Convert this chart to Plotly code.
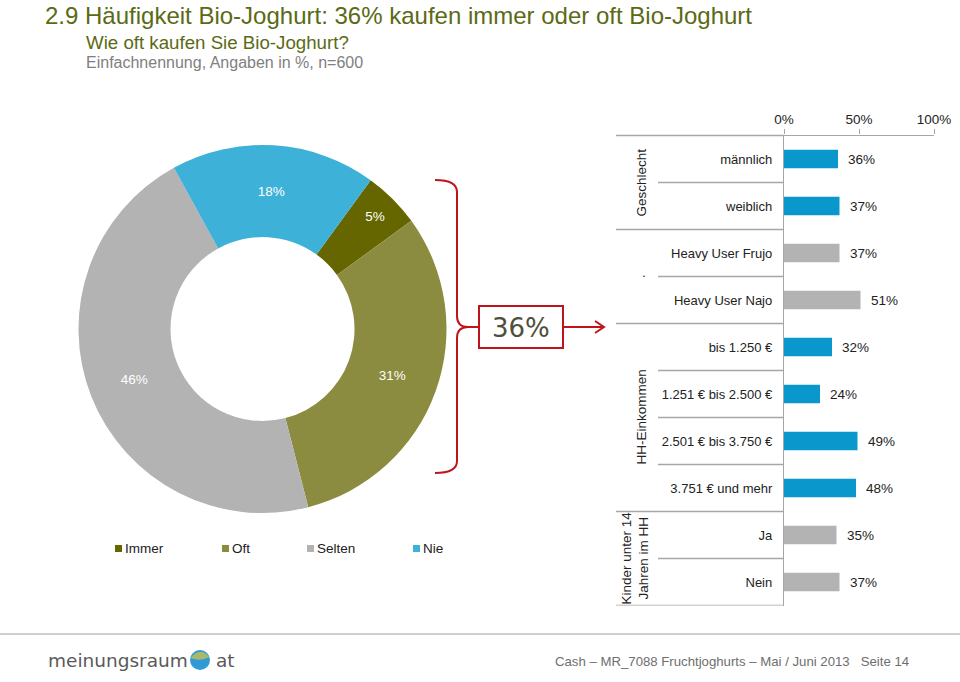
import plotly.graph_objects as go

# ---------------- data ----------------
pie_labels = ["Immer", "Oft", "Selten", "Nie"]
pie_values = [5, 31, 46, 18]
pie_colors = ["#666600", "#8C8C40", "#B3B3B3", "#3DB1D8"]

bar_categories = ["männlich", "weiblich", "Heavy User Frujo", "Heavy User Najo",
                  "bis 1.250 €", "1.251 € bis 2.500 €", "2.501 € bis 3.750 €",
                  "3.751 € und mehr", "Ja", "Nein"]
bar_values = [36, 37, 37, 51, 32, 24, 49, 48, 35, 37]
group_names = ["Geschlecht", ".", "HH-Einkommen", "Kinder unter 14<br>Jahren im HH"]
group_sizes = [2, 2, 4, 2]
group_colors = ["#0A97CC", "#B3B3B3", "#0A97CC", "#B3B3B3"]

x_tickvals = [0, 50, 100]
x_ticktext = ["0%", "50%", "100%"]

highlight_text = "36%"

W, H = 960, 682
def X(px):
    return px / W
def Y(py):
    return 1 - py / H

FONT = "Liberation Sans, Arial, sans-serif"
TXT = "#222222"
GRID = "#A6A6A6"

bar_colors = []
for c, n in zip(group_colors, group_sizes):
    bar_colors += [c] * n

fig = go.Figure()

fig.add_trace(go.Pie(
    labels=pie_labels, values=pie_values, hole=0.5, sort=False,
    direction="clockwise", rotation=36,
    marker=dict(colors=pie_colors, line=dict(width=0)),
    texttemplate="%{value}%", textposition="inside",
    insidetextorientation="horizontal",
    textfont=dict(family=FONT, size=13.5, color="white"),
    domain=dict(x=[X(78), X(447)], y=[Y(513), Y(145)]),
    showlegend=False, hoverinfo="label+value",
))

fig.add_trace(go.Bar(
    y=bar_categories, x=bar_values, orientation="h",
    marker=dict(color=bar_colors, line=dict(width=0)),
    width=0.39, xaxis="x", yaxis="y", showlegend=False,
))

y_top, y_bot = 135.5, 605.5
fig.update_layout(
    width=W, height=H, margin=dict(l=0, r=0, t=0, b=0, pad=0, autoexpand=False),
    paper_bgcolor="white", plot_bgcolor="white", showlegend=False,
    font=dict(family=FONT, size=13.5, color=TXT),
    xaxis=dict(domain=[X(784), X(934)], range=[0, 100], side="top", anchor="y",
               automargin=False,
               tickvals=x_tickvals, ticktext=x_ticktext, showgrid=False, zeroline=False,
               showline=True, linecolor=GRID, linewidth=1.3,
               ticks="outside", ticklen=5, tickcolor=GRID,
               tickfont=dict(size=13.5, color=TXT)),
    yaxis=dict(domain=[Y(y_bot), Y(y_top)], range=[len(bar_categories) - 0.5, -0.5],
               type="category", categoryorder="array", categoryarray=bar_categories,
               anchor="x", automargin=False, showgrid=False, zeroline=False, showline=True,
               linecolor=GRID, linewidth=1.3, ticks="", ticklabelstandoff=8,
               tickfont=dict(size=13, color=TXT)),
)

shapes = []
annotations = []

def note(text, x, y, size, color=TXT, family=None, xanchor="center", **kw):
    f = dict(size=size, color=color)
    if family:
        f["family"] = family
    d = dict(text=text, x=x, y=y, xanchor=xanchor, yanchor="middle",
             showarrow=False, font=f, borderpad=0)
    d.setdefault("xref", "paper")
    d.setdefault("yref", "paper")
    d.update(kw)
    annotations.append(d)

# top axis line extension to the left
shapes.append(dict(type="line", xref="paper", yref="paper", x0=X(616), x1=X(784),
                   y0=Y(y_top), y1=Y(y_top), line=dict(color=GRID, width=1.3)))

# separators and group labels
start = 0
for name, n in zip(group_names, group_sizes):
    for k in range(start, start + n - 1):
        shapes.append(dict(type="line", xref="paper", yref="y", x0=X(658), x1=X(784),
                           y0=k + 0.5, y1=k + 0.5, line=dict(color=GRID, width=1.3)))
    end = start + n - 1
    shapes.append(dict(type="line", xref="paper", yref="y", x0=X(616), x1=X(784),
                       y0=end + 0.5, y1=end + 0.5, line=dict(color=GRID, width=1.3)))
    center = (start + end) / 2
    if name == ".":
        note(".", X(644), start + 0.5, 13.5, yref="y", yshift=4)
    elif "<br>" in name:
        note(name, X(635), center, 13.5, yref="y", textangle=-90)
    else:
        note(name, X(641), center, 13.5, yref="y", textangle=-90)
    start += n

# value labels
for cat, v in zip(bar_categories, bar_values):
    note(f"{v}%", v, cat, 13.5, xanchor="left", xref="x", yref="y", xshift=9)

# bracket, box and arrow
red = "#C0141C"
path = ("M {},{} Q {},{} {},{} L {},{} Q {},{} {},{} Q {},{} {},{} L {},{} Q {},{} {},{}").format(
    X(435), Y(180), X(457), Y(180), X(457), Y(192),
    X(457), Y(316), X(457), Y(327), X(468), Y(327),
    X(457), Y(327), X(457), Y(338),
    X(457), Y(461), X(457), Y(473), X(435), Y(473))
shapes.append(dict(type="path", xref="paper", yref="paper", path=path,
                   line=dict(color=red, width=2)))
shapes.append(dict(type="line", xref="paper", yref="paper", x0=X(466), x1=X(479),
                   y0=Y(327), y1=Y(327), line=dict(color=red, width=2)))
shapes.append(dict(type="rect", xref="paper", yref="paper", x0=X(479), x1=X(563),
                   y0=Y(348), y1=Y(306), line=dict(color=red, width=2), fillcolor="white"))
shapes.append(dict(type="line", xref="paper", yref="paper", x0=X(563), x1=X(604),
                   y0=Y(327), y1=Y(327), line=dict(color=red, width=2)))
shapes.append(dict(type="path", xref="paper", yref="paper",
                   path="M {},{} L {},{} L {},{}".format(X(595), Y(321), X(604), Y(327), X(595), Y(333)),
                   line=dict(color=red, width=2)))
note(highlight_text, X(521), Y(328), 26, color="#4F4F3A", family="DejaVu Sans")

# legend (manual)
leg_x = [115, 222, 307, 413]
for lab, col, lx in zip(pie_labels, pie_colors, leg_x):
    shapes.append(dict(type="rect", xref="paper", yref="paper", x0=X(lx), x1=X(lx + 7),
                       y0=Y(552), y1=Y(545), fillcolor=col, line=dict(width=0)))
    note(lab, X(lx + 9), Y(548.5), 13.5, xanchor="left")

# titles
note("2.9 Häufigkeit Bio-Joghurt: 36% kaufen immer oder oft Bio-Joghurt",
     X(44), Y(16), 24, color="#5B6A14", xanchor="left")
note("Wie oft kaufen Sie Bio-Joghurt?", X(85), Y(43), 18.7, color="#5B6A14", xanchor="left")
note("Einfachnennung, Angaben in %, n=600", X(85), Y(62), 16, color="#808080",
     xanchor="left")

# footer
shapes.append(dict(type="line", xref="paper", yref="paper", x0=0, x1=1, y0=Y(634), y1=Y(634),
                   line=dict(color="#CFCFCF", width=2)))
note("meinungsraum", X(47), Y(660), 18.5, color="#5A5A5A", family="DejaVu Sans",
     xanchor="left")
shapes.append(dict(type="circle", xref="paper", yref="paper", x0=X(190), x1=X(210),
                   y0=Y(670), y1=Y(650), fillcolor="#2F9AD6", line=dict(width=0)))
shapes.append(dict(type="path", xref="paper", yref="paper",
                   path="M {},{} Q {},{} {},{} Q {},{} {},{} Z".format(
                       X(190.5), Y(658), X(200), Y(646), X(209.5), Y(657),
                       X(200), Y(662), X(190.5), Y(658)),
                   fillcolor="#A9B86A", line=dict(width=0)))
note("at", X(215), Y(660), 18.5, color="#5A5A5A", family="DejaVu Sans", xanchor="left")
note("Cash – MR_7088 Fruchtjoghurts – Mai / Juni 2013   Seite 14",
     X(910), Y(661), 13.2, color="#6E6E6E", xanchor="right")

fig.update_layout(shapes=shapes, annotations=annotations)
fig.write_html("out.html", config={"displayModeBar": False},
               post_script="document.body.style.margin='0px';")
